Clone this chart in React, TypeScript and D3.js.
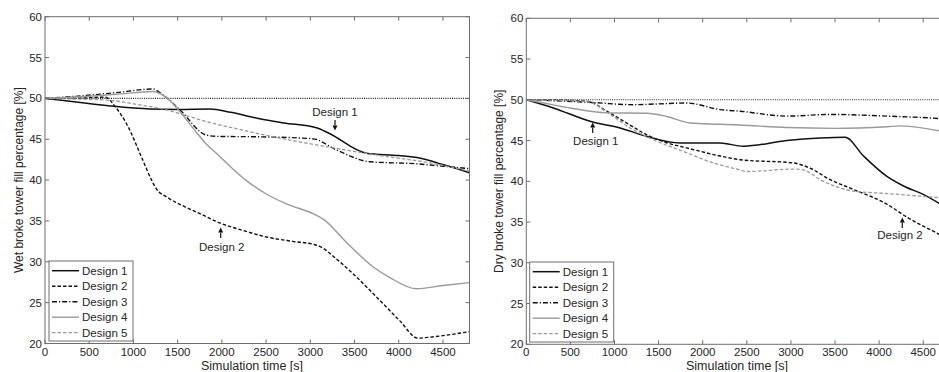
import React from "react";
import * as d3 from "d3";

type Pt = [number, number];

const seriesNames = ["Design 1", "Design 2", "Design 3", "Design 4", "Design 5"];
const xTicks = [0, 500, 1000, 1500, 2000, 2500, 3000, 3500, 4000, 4500];
const yTicks = [20, 25, 30, 35, 40, 45, 50, 55, 60];
const referenceLevel = 50;

// Wet broke tower (left panel)
const wetDesign1: Pt[] = [[0,50],[400,49.5],[734,49.08],[1186,48.7],[1500,48.65],[1864,48.7],[2100,48.3],[2428,47.5],[2700,47.0],[3068,46.4],[3200,45.8],[3633,43.3],[4000,43.0],[4235,42.7],[4500,41.9],[4800,40.9]];
const wetDesign2: Pt[] = [[0,50],[400,50.05],[680,50.15],[800,48.9],[922,46.9],[1100,42.6],[1205,40.0],[1261,38.9],[1374,37.95],[1550,36.9],[1751,35.9],[1976,34.76],[2250,33.8],[2503,33.04],[2800,32.5],[3030,32.15],[3105,31.9],[3300,30.3],[3482,28.55],[3784,25.3],[4010,22.8],[4217,20.65],[4330,20.75],[4800,21.45]];
const wetDesign3: Pt[] = [[0,50],[400,50.3],[800,50.7],[1223,51.15],[1300,50.7],[1525,48.6],[1826,45.5],[1950,45.35],[2428,45.3],[3030,45.05],[3294,43.7],[3670,42.25],[4198,42.0],[4500,41.7],[4800,41.4]];
const wetDesign4: Pt[] = [[0,50],[400,50.2],[800,50.5],[1223,50.85],[1300,50.6],[1374,50.1],[1525,48.4],[1700,46.0],[1826,44.4],[1976,42.9],[2100,41.6],[2270,40.0],[2503,38.3],[2750,37.0],[3030,35.9],[3150,35.2],[3407,32.4],[3708,29.4],[3896,28.1],[4198,26.7],[4500,27.1],[4800,27.45]];
const wetDesign5: Pt[] = [[0,50],[400,49.9],[697,49.8],[1073,49.2],[1374,48.6],[1562,48.0],[1901,46.95],[2202,46.2],[2428,45.65],[2767,44.9],[3181,44.1],[3445,43.6],[3821,42.95],[4273,42.25],[4500,41.8],[4800,41.1]];

// Dry broke tower (right panel)
const dryDesign1: Pt[] = [[0,50],[306,49.0],[742,47.3],[1063,46.55],[1366,45.5],[1743,44.7],[2197,44.7],[2461,44.3],[2954,45.0],[3331,45.3],[3615,45.4],[3823,43.1],[4088,40.6],[4300,39.3],[4500,38.4],[4680,37.3],[4800,36.5]];
const dryDesign2: Pt[] = [[0,50],[400,49.95],[700,49.8],[912,48.6],[1176,46.9],[1366,45.7],[1600,44.7],[1819,44.1],[2197,43.1],[2424,42.65],[3029,42.25],[3218,41.6],[3445,40.2],[3709,39.0],[4088,37.2],[4315,35.6],[4681,33.5],[4800,32.8]];
const dryDesign3: Pt[] = [[0,50],[400,49.85],[700,49.7],[1214,49.4],[1500,49.5],[1819,49.6],[2197,48.8],[2424,48.6],[2954,48.0],[3445,48.2],[4088,48.0],[4681,47.7],[4800,47.6]];
const dryDesign4: Pt[] = [[0,50],[200,49.6],[496,49.0],[912,48.4],[1366,48.35],[1593,47.95],[1857,47.15],[2197,47.0],[2424,46.9],[2954,46.6],[3500,46.5],[4088,46.7],[4240,46.8],[4681,46.2],[4800,46.0]];
const dryDesign5: Pt[] = [[0,50],[400,49.9],[700,49.75],[949,48.2],[1176,46.55],[1441,45.1],[1819,43.5],[2121,42.25],[2424,41.4],[2500,41.2],[3029,41.5],[3143,41.4],[3331,40.2],[3709,38.8],[4088,38.5],[4681,38.0],[4800,37.9]];

const wetSeries = [wetDesign1, wetDesign2, wetDesign3, wetDesign4, wetDesign5];
const drySeries = [dryDesign1, dryDesign2, dryDesign3, dryDesign4, dryDesign5];

const styles = [
  { stroke: "#111", dash: "", width: 1.5 },
  { stroke: "#111", dash: "3.5,2", width: 1.4 },
  { stroke: "#111", dash: "5,2,1.2,2", width: 1.4 },
  { stroke: "#9a9a9a", dash: "", width: 1.4 },
  { stroke: "#9a9a9a", dash: "3.5,2", width: 1.3 },
];

const FONT = "'Liberation Sans', Arial, sans-serif";
const TXT = "#262626";
const FRAME = "#6e6e6e";

function Panel(props: {
  id: string;
  x0: number; x1: number; y0: number; y1: number;
  series: Pt[][];
  yLabel: string; yLabelX: number; xLabelX: number;
  legendX: number; legendY: number;
  annotations: { label: string; cx: number; baseline: number; ax: number; ayTail: number; ayHead: number }[];
}) {
  const { x0, x1, y0, y1 } = props;
  const x = d3.scaleLinear().domain([0, 4800]).range([x0, x1]);
  const y = d3.scaleLinear().domain([20, 60]).range([y1, y0]);
  const line = d3.line<Pt>().x((d) => x(d[0])).y((d) => y(d[1])).curve(d3.curveMonotoneX);
  const tl = 4;
  const clipId = "clip-" + props.id;
  return (
    <g>
      <defs>
        <clipPath id={clipId}>
          <rect x={x0} y={y0} width={x1 - x0} height={y1 - y0} />
        </clipPath>
      </defs>
      <rect x={x0} y={y0} width={x1 - x0} height={y1 - y0} fill="#fff" stroke="none" />
      <g clipPath={`url(#${clipId})`}>
        <line x1={x(0)} x2={x(4800)} y1={y(referenceLevel)} y2={y(referenceLevel)} stroke="#222" strokeWidth={1.1} strokeDasharray="1,1.2" />
        {props.series.map((s, i) => (
          <path key={i} d={line(s) || ""} fill="none" stroke={styles[i].stroke} strokeWidth={styles[i].width} strokeDasharray={styles[i].dash || undefined} />
        ))}
      </g>
      <rect x={x0} y={y0} width={x1 - x0} height={y1 - y0} fill="none" stroke={FRAME} strokeWidth={1} />
      {xTicks.map((t) => (
        <g key={"xt" + t}>
          <line x1={x(t)} x2={x(t)} y1={y1} y2={y1 - tl} stroke={FRAME} />
          <line x1={x(t)} x2={x(t)} y1={y0} y2={y0 + tl} stroke={FRAME} />
          <text x={x(t)} y={y1 + 12} textAnchor="middle" fontSize={11.5} fontFamily={FONT} fill={TXT}>{t}</text>
        </g>
      ))}
      {yTicks.map((v) => (
        <g key={"yt" + v}>
          <line x1={x0} x2={x0 + tl} y1={y(v)} y2={y(v)} stroke={FRAME} />
          <line x1={x1} x2={x1 - tl} y1={y(v)} y2={y(v)} stroke={FRAME} />
          <text x={x0 - 3} y={y(v) + 4} textAnchor="end" fontSize={11.5} fontFamily={FONT} fill={TXT}>{v}</text>
        </g>
      ))}
      <text x={props.xLabelX} y={y1 + 26} textAnchor="middle" fontSize={12.5} fontFamily={FONT} fill={TXT}>Simulation time [s]</text>
      <text transform={`translate(${props.yLabelX},${(y0 + y1) / 2}) rotate(-90)`} textAnchor="middle" fontSize={12} fontFamily={FONT} fill={TXT}>{props.yLabel}</text>
      {props.annotations.map((a, i) => {
        const dir = a.ayHead > a.ayTail ? 1 : -1;
        const hb = a.ayHead - dir * 5;
        return (
          <g key={"an" + i}>
            <text x={a.cx} y={a.baseline} textAnchor="middle" fontSize={11.5} fontFamily={FONT} fill={TXT}>{a.label}</text>
            <line x1={a.ax} x2={a.ax} y1={a.ayTail} y2={hb} stroke="#111" strokeWidth={1.2} />
            <path d={`M${a.ax - 2.5},${hb} L${a.ax + 2.5},${hb} L${a.ax},${a.ayHead} Z`} fill="#111" />
          </g>
        );
      })}
      <g>
        <rect x={props.legendX} y={props.legendY} width={84} height={80} fill="#fff" stroke={FRAME} strokeWidth={1} />
        {seriesNames.map((n, i) => {
          const ry = props.legendY + 9.7 + i * 15.5;
          return (
            <g key={"lg" + i}>
              <line x1={props.legendX + 3} x2={props.legendX + 30} y1={ry} y2={ry} stroke={styles[i].stroke} strokeWidth={styles[i].width} strokeDasharray={styles[i].dash || undefined} />
              <text x={props.legendX + 33} y={ry + 4} fontSize={11.5} fontFamily={FONT} fill={TXT}>{n}</text>
            </g>
          );
        })}
      </g>
    </g>
  );
}

export default function App() {
  return (
    <svg width={939} height={372} style={{ position: "absolute", left: 0, top: 0, background: "#fff" }}>
      <rect x={0} y={0} width={939} height={372} fill="#fff" />
      <Panel
        id="wet"
        x0={45} x1={469.5} y0={16.7} y1={343.5}
        series={wetSeries}
        yLabel="Wet broke tower fill percentage [%]" yLabelX={23} xLabelX={252}
        legendX={49} legendY={261}
        annotations={[
          { label: "Design 1", cx: 335, baseline: 115.5, ax: 335, ayTail: 120, ayHead: 130.5 },
          { label: "Design 2", cx: 221.7, baseline: 251, ax: 220.7, ayTail: 238, ayHead: 227.5 },
        ]}
      />
      <Panel
        id="dry"
        x0={526.3} x1={949.7} y0={18.3} y1={344.3}
        series={drySeries}
        yLabel="Dry broke tower fill percentage [%]" yLabelX={503} xLabelX={737}
        legendX={529.7} legendY={262}
        annotations={[
          { label: "Design 1", cx: 595.8, baseline: 145, ax: 592.7, ayTail: 133, ayHead: 122.5 },
          { label: "Design 2", cx: 900, baseline: 239, ax: 902.3, ayTail: 228, ayHead: 217.5 },
        ]}
      />
    </svg>
  );
}
